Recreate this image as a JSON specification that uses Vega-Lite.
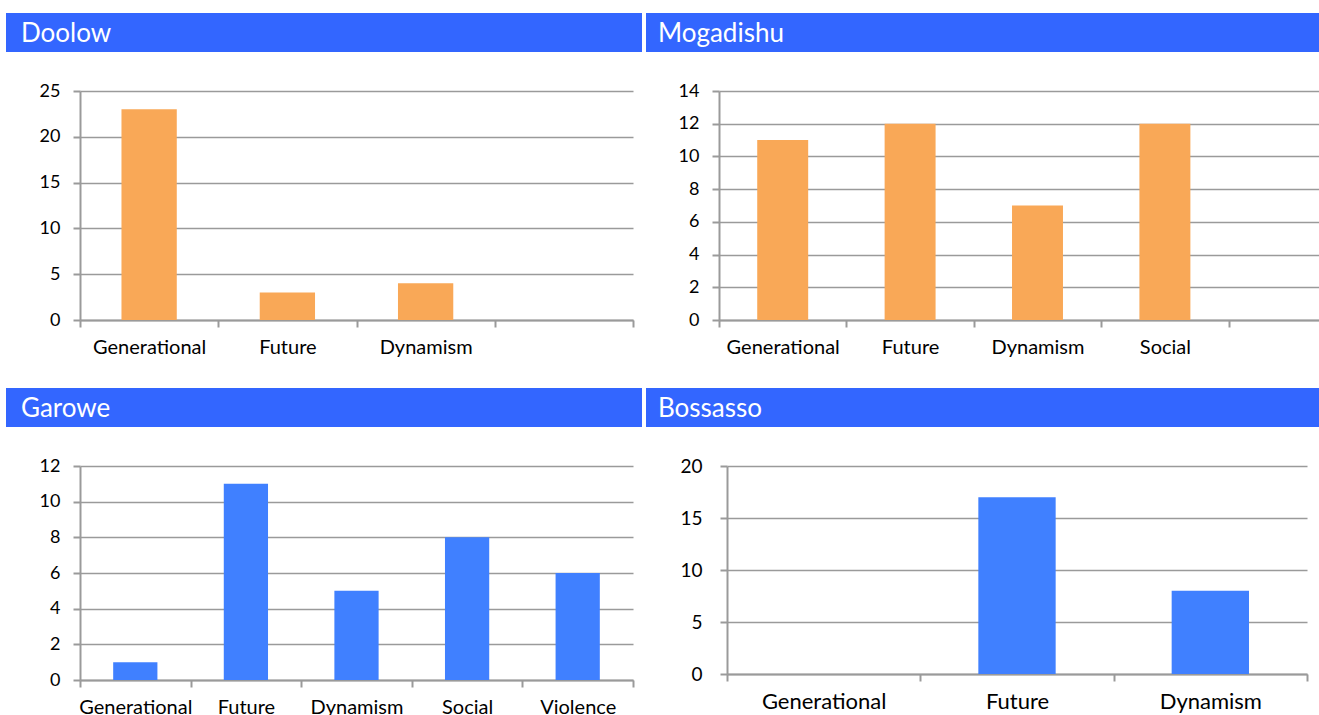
{
  "$schema": "https://vega.github.io/schema/vega-lite/v6.json",
  "padding": {"left": 6, "top": 13, "right": 0, "bottom": 0},
  "background": "white",
  "config": {
    "font": "Lato",
    "view": {"stroke": null},
    "axis": {
      "domainColor": "#9a9a9a", "domainWidth": 2,
      "tickColor": "#9a9a9a", "tickWidth": 2, "tickSize": 7,
      "gridColor": "#9a9a9a", "gridWidth": 1.5,
      "labelColor": "#000000", "labelFont": "Lato", "labelFontSize": 18,
      "title": null
    },
    "axisX": {"labelFontSize": 20, "labelPadding": 10, "labelAngle": 0, "tickBand": "extent"},
    "axisY": {"labelPadding": 13, "grid": true},
    "title": {"font": "Lato", "fontWeight": "normal", "color": "white", "fontSize": 26, "anchor": "start"}
  },
  "datasets": {
    "d": [
      {"city": "Doolow", "cat": "Generational", "v": 23},
      {"city": "Doolow", "cat": "Future", "v": 3},
      {"city": "Doolow", "cat": "Dynamism", "v": 4},
      {"city": "Mogadishu", "cat": "Generational", "v": 11},
      {"city": "Mogadishu", "cat": "Future", "v": 12},
      {"city": "Mogadishu", "cat": "Dynamism", "v": 7},
      {"city": "Mogadishu", "cat": "Social", "v": 12},
      {"city": "Garowe", "cat": "Generational", "v": 1},
      {"city": "Garowe", "cat": "Future", "v": 11},
      {"city": "Garowe", "cat": "Dynamism", "v": 5},
      {"city": "Garowe", "cat": "Social", "v": 8},
      {"city": "Garowe", "cat": "Violence", "v": 6},
      {"city": "Bossasso", "cat": "Future", "v": 17},
      {"city": "Bossasso", "cat": "Dynamism", "v": 8}
    ],
    "blank": [{"k": 0}]
  },
  "spacing": 31,
  "vconcat": [
    {
      "spacing": 30,
      "vconcat": [
        {
          "spacing": 4,
          "hconcat": [
            {
              "width": 636, "height": 39,
              "data": {"values": [{"c": "Doolow"}]},
              "mark": {"type": "rect", "color": "#3366ff"},
              "encoding": {},
              "view": {"fill": "#3366ff", "stroke": null},
              "title": {"text": "Doolow", "offset": -34, "dx": 15}
            },
            {
              "width": 709, "height": 39,
              "data": {"values": [{"c": "Mogadishu"}]},
              "mark": {"type": "rect", "color": "#3366ff"},
              "encoding": {},
              "view": {"fill": "#3366ff", "stroke": null},
              "title": {"text": "Mogadishu", "offset": -34, "dx": 12}
            }
          ]
        },
        {
          "spacing": 13,
          "hconcat": [
            {
              "spacing": 0,
              "hconcat": [
                {
                  "width": 1, "height": 1,
                  "data": {"name": "blank"},
                  "mark": {"type": "rect", "opacity": 0},
                  "encoding": {}
                },
                {
                  "width": 553, "height": 229,
                  "data": {"name": "d"},
                  "transform": [{"filter": "datum.city === 'Doolow'"}],
                  "mark": {"type": "bar", "color": "#f9a857", "width": {"band": 0.4}},
                  "encoding": {
                    "x": {"field": "cat", "type": "nominal", "sort": null,
                      "scale": {"domain": ["Generational", "Future", "Dynamism", " "], "paddingInner": 0, "paddingOuter": 0}},
                    "y": {"field": "v", "type": "quantitative",
                      "scale": {"domain": [0, 25], "nice": false},
                      "axis": {"values": [0, 5, 10, 15, 20, 25], "minExtent": 73, "maxExtent": 73}}
                  }
                }
              ]
            },
            {
              "width": 637, "height": 229,
              "data": {"name": "d"},
              "transform": [{"filter": "datum.city === 'Mogadishu'"}],
              "mark": {"type": "bar", "color": "#f9a857", "width": {"band": 0.4}},
              "encoding": {
                "x": {"field": "cat", "type": "nominal", "sort": null,
                  "scale": {"domain": ["Generational", "Future", "Dynamism", "Social", " "], "paddingInner": 0, "paddingOuter": 0}},
                "y": {"field": "v", "type": "quantitative",
                  "scale": {"domain": [0, 14], "nice": false},
                  "axis": {"values": [0, 2, 4, 6, 8, 10, 12, 14], "minExtent": 72, "maxExtent": 72}}
              }
            }
          ]
        }
      ]
    },
    {
      "spacing": 30,
      "vconcat": [
        {
          "spacing": 4,
          "hconcat": [
            {
              "width": 636, "height": 39,
              "data": {"values": [{"c": "Garowe"}]},
              "mark": {"type": "rect", "color": "#3366ff"},
              "encoding": {},
              "view": {"fill": "#3366ff", "stroke": null},
              "title": {"text": "Garowe", "offset": -34, "dx": 15}
            },
            {
              "width": 673, "height": 39,
              "data": {"values": [{"c": "Bossasso"}]},
              "mark": {"type": "rect", "color": "#3366ff"},
              "encoding": {},
              "view": {"fill": "#3366ff", "stroke": null},
              "title": {"text": "Bossasso", "offset": -34, "dx": 12}
            }
          ]
        },
        {
          "spacing": 13,
          "hconcat": [
            {
              "spacing": 0,
              "hconcat": [
                {
                  "width": 1, "height": 1,
                  "data": {"name": "blank"},
                  "mark": {"type": "rect", "opacity": 0},
                  "encoding": {}
                },
                {
                  "width": 553, "height": 214,
                  "data": {"name": "d"},
                  "transform": [{"filter": "datum.city === 'Garowe'"}],
                  "mark": {"type": "bar", "color": "#4080ff", "width": {"band": 0.4}},
                  "encoding": {
                    "x": {"field": "cat", "type": "nominal", "sort": null,
                      "scale": {"domain": ["Generational", "Future", "Dynamism", "Social", "Violence"], "paddingInner": 0, "paddingOuter": 0}},
                    "y": {"field": "v", "type": "quantitative",
                      "scale": {"domain": [0, 12], "nice": false},
                      "axis": {"values": [0, 2, 4, 6, 8, 10, 12], "minExtent": 73, "maxExtent": 73}}
                  }
                }
              ]
            },
            {
              "width": 580, "height": 208,
              "data": {"name": "d"},
              "transform": [{"filter": "datum.city === 'Bossasso'"}],
              "mark": {"type": "bar", "color": "#4080ff", "width": {"band": 0.4}},
              "encoding": {
                "x": {"field": "cat", "type": "nominal", "sort": null,
                  "scale": {"domain": ["Generational", "Future", "Dynamism"], "paddingInner": 0, "paddingOuter": 0},
                  "axis": {"labelFontSize": 22}},
                "y": {"field": "v", "type": "quantitative",
                  "scale": {"domain": [0, 20], "nice": false},
                  "axis": {"values": [0, 5, 10, 15, 20], "labelPadding": 18, "labelFontSize": 19, "minExtent": 80, "maxExtent": 80}}
              }
            }
          ]
        }
      ]
    }
  ]
}
